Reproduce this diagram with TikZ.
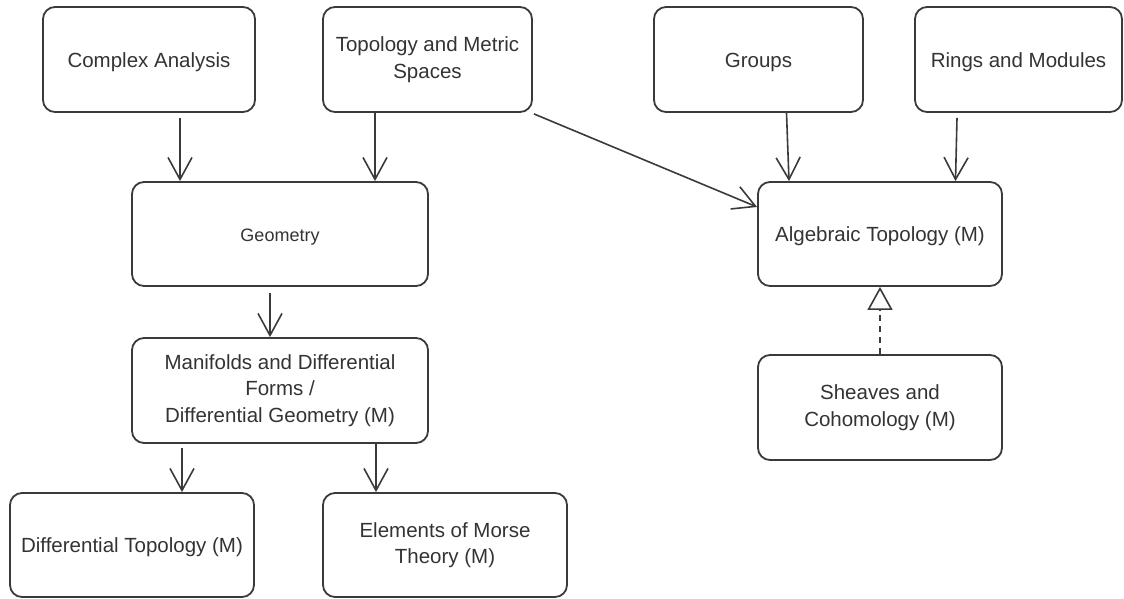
\documentclass[tikz,border=0pt]{standalone}
\usepackage{fontspec}
\setmainfont{Liberation Sans}
\usetikzlibrary{arrows.meta}
\definecolor{ink}{HTML}{333333}
\definecolor{edge}{HTML}{3A3A3A}
\begin{document}
\begin{tikzpicture}[x=1pt,y=-1pt,
  box/.style={draw=edge, line width=1.8pt, rounded corners=12pt, rectangle,
    inner sep=0pt, align=center, text=ink,
    font=\fontsize{20.5}{26.5}\selectfont,
    execute at begin node={\rule{0pt}{19.5pt}}},
  link/.style={draw=edge, line width=1.6pt,
    -{Straight Barb[length=22pt,width=24pt,line width=1.6pt]}},
  inherit/.style={draw=edge, line width=1.6pt, dash pattern=on 6pt off 5pt,
    -{Triangle[open,length=23pt,width=25pt,line width=1.6pt,fill=white]}}]
  \useasboundingbox (0,0) rectangle (1124,599);

  % top row
  \node[box, minimum width=212pt, minimum height=105pt] (ca)  at (149,59.5)   {Complex Analysis};
  \node[box, minimum width=209pt, minimum height=105pt] (tms) at (427.5,59.5) {Topology and Metric\\Spaces};
  \node[box, minimum width=209pt, minimum height=105pt] (grp) at (758.5,59.5) {Groups};
  \node[box, minimum width=207pt, minimum height=105pt] (rm)  at (1018.5,59.5){Rings and Modules};

  % second row
  \node[box, minimum width=296pt, minimum height=104pt, font=\fontsize{18}{23}\selectfont] (geo) at (280,234) {Geometry};
  \node[box, minimum width=244pt, minimum height=104pt] (alg) at (880,234) {Algebraic Topology (M)};

  % third row
  \node[box, minimum width=296pt, minimum height=105pt] (man) at (280,390.5) {Manifolds and Differential\\Forms /\\Differential Geometry (M)};
  \node[box, minimum width=244pt, minimum height=105pt] (shv) at (880,407.5) {Sheaves and\\Cohomology (M)};

  % bottom row
  \node[box, minimum width=244pt, minimum height=104pt] (dt)  at (132,545) {Differential Topology (M)};
  \node[box, minimum width=244pt, minimum height=104pt] (emt) at (445,545) {Elements of Morse\\Theory (M)};

  % dependencies
  \draw[link] ([xshift=31pt,yshift=-5pt]ca.south) -- ([xshift=-100pt]geo.north);
  \draw[link] ([xshift=-52.5pt]tms.south) -- ([xshift=95pt]geo.north);
  \draw[link] ([xshift=1pt,yshift=-1pt]tms.south east) -- ([yshift=27pt]alg.west);
  \draw[link] ([xshift=28pt]grp.south) -- ([xshift=-91pt]alg.north);
  \draw[link] ([xshift=-61.5pt,yshift=-5pt]rm.south) -- ([xshift=75.5pt]alg.north);
  \draw[link] ([xshift=-10pt,yshift=-6pt]geo.south) -- ([xshift=-10pt]man.north);
  \draw[link] ([xshift=-98pt,yshift=-4pt]man.south) -- ([xshift=50pt]dt.north);
  \draw[link] ([xshift=96pt]man.south) -- ([xshift=-69pt]emt.north);
  \draw[inherit] (shv.north) -- (alg.south);
\end{tikzpicture}
\end{document}
